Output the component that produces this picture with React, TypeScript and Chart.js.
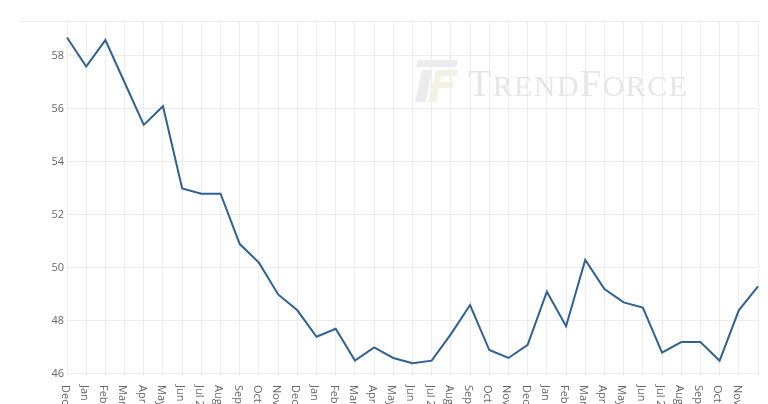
import React, { useEffect, useRef } from "react";
import { Chart, registerables } from "chart.js";

Chart.register(...registerables);

const categories: string[] = [
  "Dec 2021",
  "Jan 2022", "Feb 2022", "Mar 2022", "Apr 2022", "May 2022", "Jun 2022",
  "Jul 2022", "Aug 2022", "Sep 2022", "Oct 2022", "Nov 2022", "Dec 2022",
  "Jan 2023", "Feb 2023", "Mar 2023", "Apr 2023", "May 2023", "Jun 2023",
  "Jul 2023", "Aug 2023", "Sep 2023", "Oct 2023", "Nov 2023", "Dec 2023",
  "Jan 2024", "Feb 2024", "Mar 2024", "Apr 2024", "May 2024", "Jun 2024",
  "Jul 2024", "Aug 2024", "Sep 2024", "Oct 2024", "Nov 2024", "Dec 2024",
];

const pmiValues: number[] = [
  58.7,
  57.6, 58.6, 57.0, 55.4, 56.1, 53.0,
  52.8, 52.8, 50.9, 50.2, 49.0, 48.4,
  47.4, 47.7, 46.5, 47.0, 46.6, 46.4,
  46.5, 47.5, 48.6, 46.9, 46.6, 47.1,
  49.1, 47.8, 50.3, 49.2, 48.7, 48.5,
  46.8, 47.2, 47.2, 46.5, 48.4, 49.3,
];

const yTickValues: number[] = [46, 48, 50, 52, 54, 56, 58];
const yMin = 45.92;
const yMax = 59.32;

const GRID = "#ececec";
const TEXT = "#666666";
const LINE = "#2f6193";
const FONT = "'Open Sans', 'Noto Sans', sans-serif";

const topLinePlugin = {
  id: "topLine",
  beforeDraw(chart: any) {
    const { ctx, chartArea } = chart;
    ctx.save();
    ctx.strokeStyle = GRID;
    ctx.lineWidth = 1;
    ctx.beginPath();
    ctx.moveTo(20, Math.round(chartArea.top) + 0.5);
    ctx.lineTo(chartArea.right + 2, Math.round(chartArea.top) + 0.5);
    ctx.stroke();
    ctx.restore();
  },
};

const watermarkPlugin = {
  id: "watermark",
  beforeDatasetsDraw(chart: any) {
    const ctx: CanvasRenderingContext2D = chart.ctx;
    ctx.save();
    // logo
    ctx.fillStyle = "#ececec";
    ctx.beginPath();
    ctx.moveTo(418, 60);
    ctx.lineTo(458, 60);
    ctx.lineTo(456, 67);
    ctx.lineTo(416, 67);
    ctx.closePath();
    ctx.fill();
    ctx.beginPath();
    ctx.moveTo(422, 70);
    ctx.lineTo(432, 70);
    ctx.lineTo(426, 102);
    ctx.lineTo(415, 102);
    ctx.closePath();
    ctx.fill();
    ctx.fillStyle = "#f1f2e4";
    ctx.beginPath();
    ctx.moveTo(436, 70);
    ctx.lineTo(458, 70);
    ctx.lineTo(457, 76);
    ctx.lineTo(441, 76);
    ctx.lineTo(440, 82);
    ctx.lineTo(454, 82);
    ctx.lineTo(453, 88);
    ctx.lineTo(439, 88);
    ctx.lineTo(436, 102);
    ctx.lineTo(428, 102);
    ctx.closePath();
    ctx.fill();
    // text
    const parts: [string, number][] = [["T", 38], ["REND", 30], ["F", 38], ["ORCE", 30]];
    const family = "'Liberation Serif', 'DejaVu Serif', serif";
    let total = 0;
    const widths: number[] = [];
    let nChars = 0;
    for (const [s, size] of parts) {
      ctx.font = `${size}px ${family}`;
      for (const ch of s) {
        const w = ctx.measureText(ch).width;
        widths.push(w);
        total += w;
        nChars++;
      }
    }
    const targetW = 219;
    const spacing = (targetW - total) / (nChars - 1);
    let x = 468;
    const baseline = 96;
    ctx.fillStyle = "#e6e6e6";
    ctx.textBaseline = "alphabetic";
    ctx.textAlign = "left";
    let k = 0;
    for (const [s, size] of parts) {
      ctx.font = `${size}px ${family}`;
      for (const ch of s) {
        ctx.fillText(ch, x, baseline);
        x += widths[k] + spacing;
        k++;
      }
    }
    ctx.restore();
  },
};

const xLabelPlugin = {
  id: "xLabels",
  afterDraw(chart: any) {
    const ctx: CanvasRenderingContext2D = chart.ctx;
    const xs = chart.scales.x;
    const top = chart.chartArea.bottom + 9;
    ctx.save();
    ctx.fillStyle = TEXT;
    ctx.font = `11px ${FONT}`;
    ctx.textAlign = "left";
    ctx.textBaseline = "middle";
    categories.forEach((lab, i) => {
      if (i === categories.length - 1) return;
      const px = xs.getPixelForValue(i);
      ctx.save();
      ctx.translate(px - 2, top);
      ctx.rotate(Math.PI / 2);
      ctx.fillText(lab, 0, 0);
      ctx.restore();
    });
    ctx.restore();
  },
};

export default function App() {
  const ref = useRef<HTMLCanvasElement | null>(null);
  useEffect(() => {
    if (!ref.current) return;
    const chart = new Chart(ref.current, {
      type: "line",
      data: {
        labels: categories,
        datasets: [
          {
            label: "PMI",
            data: pmiValues,
            borderColor: LINE,
            backgroundColor: LINE,
            borderWidth: 2,
            pointRadius: 0,
            tension: 0,
            fill: false,
          },
        ],
      },
      options: {
        animation: false,
        responsive: false,
        maintainAspectRatio: false,
        layout: { padding: { top: 21, right: 10, left: 0, bottom: 0 } },
        plugins: {
          legend: { display: false },
          tooltip: { enabled: false },
          title: { display: false },
        },
        scales: {
          x: {
            type: "category",
            offset: false,
            grid: { color: GRID, drawTicks: false, lineWidth: 1 },
            border: { display: false },
            ticks: { display: false },
            afterFit: (scale: any) => {
              scale.height = 28;
            },
          },
          y: {
            min: yMin,
            max: yMax,
            grid: { color: GRID, drawTicks: false, lineWidth: 1 },
            border: { display: false },
            afterBuildTicks: (scale: any) => {
              scale.ticks = yTickValues.map((v) => ({ value: v }));
            },
            afterFit: (scale: any) => {
              scale.width = 67;
            },
            ticks: {
              color: TEXT,
              padding: 3,
              font: { size: 11, family: FONT },
              callback: (v: any) => String(v),
            },
          },
        },
      },
      plugins: [topLinePlugin, watermarkPlugin, xLabelPlugin],
    });
    return () => chart.destroy();
  }, []);
  return (
    <div style={{ position: "absolute", left: 0, top: 0, width: 768, height: 404, background: "#fff" }}>
      <canvas ref={ref} width={768} height={404} style={{ display: "block", width: 768, height: 404 }} />
    </div>
  );
}
